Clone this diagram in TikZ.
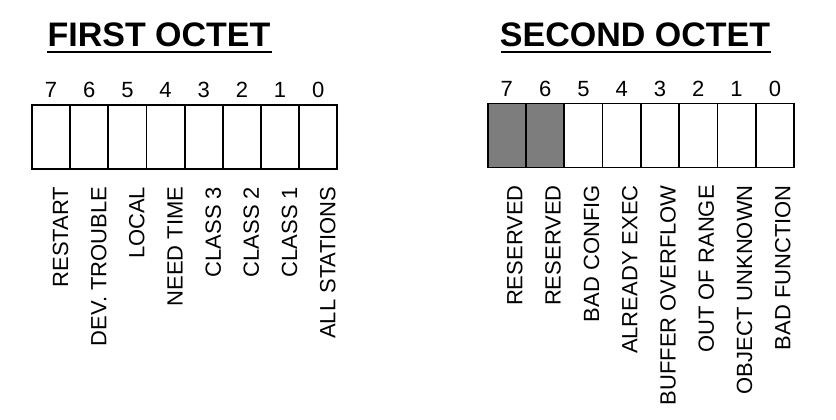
\documentclass[tikz,border=0pt]{standalone}
\usepackage{fontspec}
\setmainfont{Liberation Sans}
\begin{document}
\begin{tikzpicture}[x=0.75pt,y=-0.75pt,
  cellbox/.style={draw=black, line width=1.3pt, minimum width=28.65pt, minimum height=48pt, inner sep=0pt, outer sep=0pt},
  resbox/.style={cellbox, fill={rgb,255:red,125;green,125;blue,125}},
  bitnum/.style={font=\fontsize{16.5pt}{18pt}\selectfont, inner sep=0pt},
  flaglabel/.style={font=\fontsize{16.5pt}{18pt}\selectfont, rotate=90, anchor=east, inner sep=0pt},
  titletext/.style={font=\fontsize{25.5pt}{28pt}\selectfont\bfseries, inner sep=0pt, anchor=base},
  uline/.style={line width=1.9pt}]
\useasboundingbox (0,0) rectangle (836,420);
% titles
\node[titletext] (t1) at (159,46.7) {FIRST OCTET};
\node[titletext] (t2) at (635,46.7) {SECOND OCTET};
\coordinate (u1a) at (46.7,52); \coordinate (u1b) at (271.5,52);
\coordinate (u2a) at (501,52); \coordinate (u2b) at (771,52);
\draw[uline] (u1a) -- (u1b);
\draw[uline] (u2a) -- (u2b);
% first octet
\foreach \d [count=\i] in {7,6,5,4,3,2,1,0} {
  \node[cellbox] (a\i) at ({32+38.16*(\i-0.5)},137) {};
  \node[bitnum] (an\i) at ({32+38.16*(\i-0.5)},90) {\d};
}
\foreach \t [count=\i] in {RESTART,DEV. TROUBLE,LOCAL,NEED TIME,CLASS 3,CLASS 2,CLASS 1,ALL STATIONS} {
  \node[flaglabel] (al\i) at ({32+38.16*(\i-0.5)+9.5},186.5) {\t};
}
% second octet
\foreach \d [count=\i] in {7,6,5,4,3,2,1,0} {
  \ifnum\i<3
    \node[resbox] (b\i) at ({487.7+38.29*(\i-0.5)},135.5) {};
  \else
    \node[cellbox] (b\i) at ({487.7+38.29*(\i-0.5)},135.5) {};
  \fi
  \node[bitnum] (bn\i) at ({487.7+38.29*(\i-0.5)},89) {\d};
}
\foreach \t [count=\i] in {RESERVED,RESERVED,BAD CONFIG,ALREADY EXEC,BUFFER OVERFLOW,OUT OF RANGE,OBJECT UNKNOWN,BAD FUNCTION} {
  \node[flaglabel] (bl\i) at ({487.7+38.29*(\i-0.5)+8},185) {\t};
}
\end{tikzpicture}
\end{document}
